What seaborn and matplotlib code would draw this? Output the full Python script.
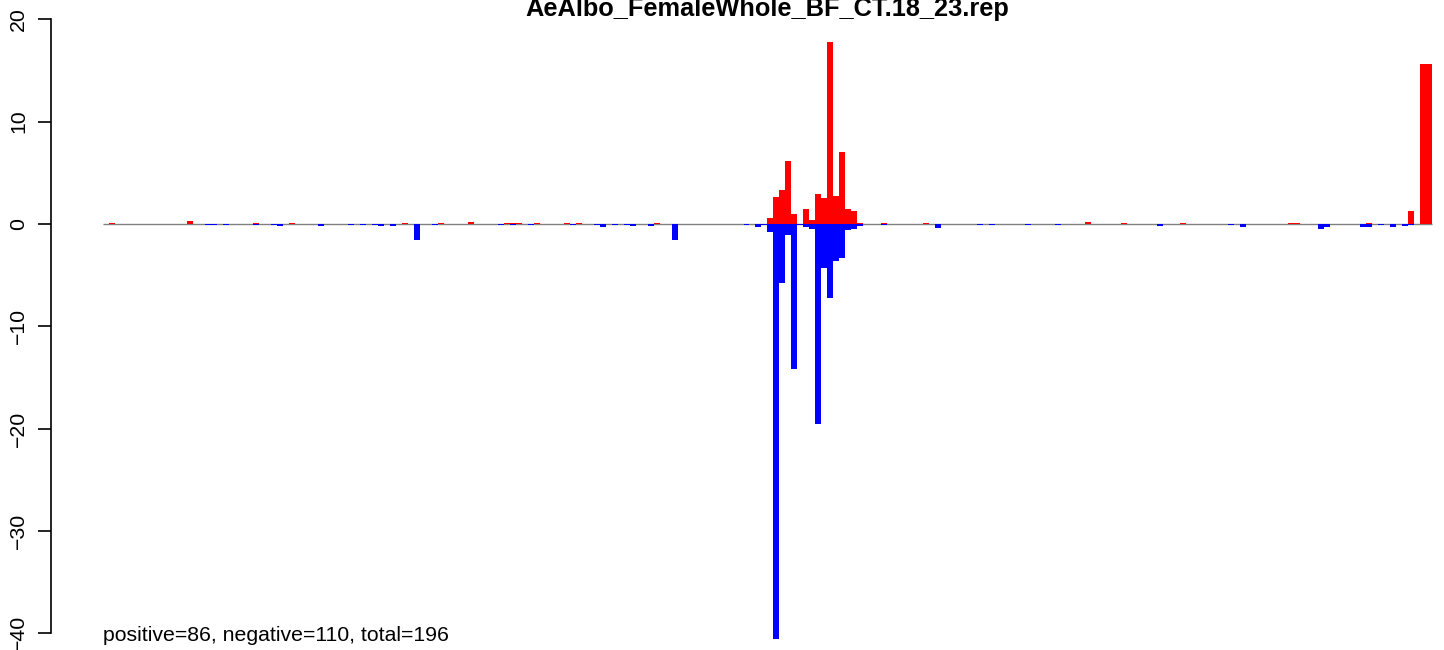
import numpy as np
import pandas as pd
import matplotlib
matplotlib.use("Agg")
import matplotlib.pyplot as plt
import seaborn as sns

# ---------------- data ----------------
n_bars = 222
title = "AeAlbo_FemaleWhole_BF_CT.18_23.rep"
note = "positive=86, negative=110, total=196"

pos_idx = [1, 14, 25, 31, 50, 56, 61, 67, 68, 69, 72, 77, 79, 92,
           111, 112, 113, 114, 115, 117, 118, 119, 120, 121, 122, 123, 124, 125, 126,
           130, 137, 164, 170, 180, 198, 199, 211, 218, 220, 221]
pos_val = [0.1, 0.3, 0.1, 0.1, 0.1, 0.1, 0.2, 0.1, 0.1, 0.1, 0.1, 0.1, 0.1, 0.1,
           0.59, 2.64, 3.32, 6.16, 0.98, 1.47, 0.39, 2.93, 2.54, 17.8, 2.74, 7.04, 1.47, 1.30, 0.1,
           0.1, 0.1, 0.15, 0.1, 0.1, 0.1, 0.1, 0.1, 1.27, 15.6, 15.6]

neg_idx = [17, 18, 20, 25, 28, 29, 36, 41, 43, 45, 46, 48, 52, 55, 66, 68, 71, 78, 82, 83,
           85, 87, 88, 91, 95, 107, 109, 110, 111, 112, 113, 114, 115, 116, 117, 118, 119,
           120, 121, 122, 123, 124, 125, 126, 130, 139, 146, 148, 154, 159, 176, 188, 190,
           203, 204, 210, 211, 213, 215, 217, 218]
neg_val = [-0.1, -0.1, -0.1, -0.1, -0.1, -0.15, -0.17, -0.1, -0.1, -0.1, -0.17, -0.17, -1.6, -0.1,
           -0.1, -0.1, -0.1, -0.1, -0.1, -0.26, -0.1, -0.1, -0.15, -0.17, -1.6, -0.1, -0.26, -0.1,
           -0.78, -40.5, -5.73, -1.04, -14.2, -0.13, -0.26, -0.49, -19.5, -4.27, -7.2, -3.58,
           -3.29, -0.55, -0.46, -0.16, -0.1, -0.39, -0.1, -0.1, -0.1, -0.1, -0.2, -0.1, -0.26,
           -0.49, -0.26, -0.26, -0.26, -0.1, -0.26, -0.16, -0.1]

positions = np.arange(n_bars)
pos = np.zeros(n_bars)
pos[pos_idx] = pos_val
neg = np.zeros(n_bars)
neg[neg_idx] = neg_val
df = pd.DataFrame({"pos": positions, "up": pos, "down": neg})

# ---------------- figure ----------------
sns.set_style("white")
plt.rcParams['font.family'] = ['Liberation Sans', 'DejaVu Sans']
plt.rcParams['text.color'] = 'black'
plt.rcParams['ytick.color'] = 'black'
plt.rcParams['ytick.labelcolor'] = 'black'

W, H = 1444, 650
fig = plt.figure(figsize=(W / 100, H / 100), dpi=100)
ax_left_px = 50.7
ax = fig.add_axes([ax_left_px / W, 0, 1 - ax_left_px / W, 1])

# baseline
ax.hlines(0, -0.5, n_bars - 0.5, color='#808080', lw=1.0, zorder=1)

sns.barplot(data=df, x="pos", y="up", color="#FF0000", saturation=1, width=1,
            native_scale=True, errorbar=None, linewidth=0, ax=ax, zorder=2)
sns.barplot(data=df, x="pos", y="down", color="#0000FF", saturation=1, width=1,
            native_scale=True, errorbar=None, linewidth=0, ax=ax, zorder=2)

# pixel mapping: bar k left edge at 103 + 5.986k px; y: 0 at 224 px, 10.235 px/unit
bw = 5.986
x0 = (ax_left_px - 103) / bw - 0.5
x1 = (W - 103) / bw - 0.5
ax.set_xlim(x0, x1)
ppu = 10.235
ax.set_ylim(-(H - 224) / ppu, 224 / ppu)

for s in ['top', 'right', 'bottom']:
    ax.spines[s].set_visible(False)
ax.spines['left'].set_bounds(-40, 20)
ax.spines['left'].set_linewidth(1.2)
ax.spines['left'].set_color('black')
ax.set_yticks([-40, -30, -20, -10, 0, 10, 20])
ax.set_yticklabels(['\u221240', '\u221230', '\u221220', '\u221210', '0', '10', '20'],
                   rotation=90, va='center', fontsize=15.3, color='black')
ax.tick_params(axis='y', left=True, length=9.1, width=1.2, pad=7, color='black')
ax.set_xticks([])
ax.set_xlabel('')
ax.set_ylabel('')

fig.text(767.5 / W, 1 - 16 / H, title, ha='center', va='baseline',
         fontsize=18.3, fontweight='bold', color='black')
fig.text(103 / W, 1 - 641 / H, note, ha='left', va='baseline', fontsize=15.3,
         color='black')

fig.savefig("out.png", dpi=100)
